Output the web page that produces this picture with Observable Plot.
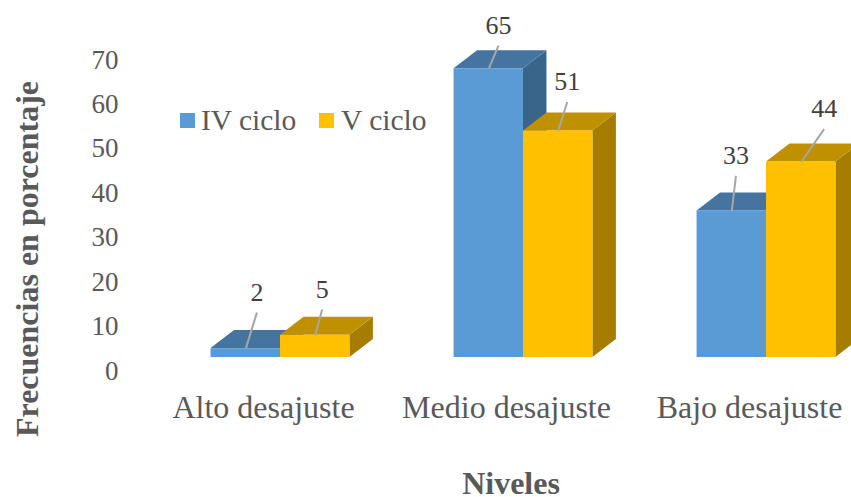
<!DOCTYPE html>
<html><head><meta charset="utf-8">
<script src="https://cdn.jsdelivr.net/npm/d3@7"></script>
<script src="https://cdn.jsdelivr.net/npm/@observablehq/plot@0.6"></script>
<style>
html,body{margin:0;padding:0;background:#fff;overflow:hidden}
#wrap{position:relative;width:851px;height:497px}
#wrap svg{display:block;font-family:"Liberation Serif",serif}
.lg{position:absolute;top:102px;font:29.5px/36px "Liberation Serif",serif;color:#595959;white-space:nowrap}
.sw{position:absolute;top:113px;width:15px;height:15px}
</style></head><body>
<div id="wrap"></div>
<script>
const categories = ["Alto desajuste", "Medio desajuste", "Bajo desajuste"];
const seriesNames = ["IV ciclo", "V ciclo"];
const ivCiclo = [2, 65, 33];
const vCiclo = [5, 51, 44];
const yTicks = [0, 10, 20, 30, 40, 50, 60, 70];
// leader-line ends relative to each bar's top, in bar widths and in value units
const leaderIvX = [0.16, 0.14, 0.06];
const leaderIvY = [8.1, 5.2, 7.9];
const leaderVX = [0.10, 0.13, 0.33];
const leaderVY = [5.8, 6.5, 7.4];

const colors = {
  "IV ciclo": {front: "#5B9BD5", top: "#44749F", side: "#3A658B"},
  "V ciclo": {front: "#FFC000", top: "#BF9000", side: "#A67D00"}
};
const pitch = 3.5, depthX = 0.338, depthY = 4.05;

const bars = [];
categories.forEach((c, i) => {
  [[seriesNames[0], ivCiclo, -1, leaderIvX, leaderIvY], [seriesNames[1], vCiclo, 0, leaderVX, leaderVY]].forEach(([s, vals, off, lx, ly]) => {
    const x1 = i * pitch + off;
    bars.push({s, value: vals[i], x1, x2: x1 + 1, mid: x1 + 0.5, endX: x1 + 0.5 + lx[i], endY: vals[i] + ly[i]});
  });
});

const marks = [];
const sideFace = b => [
  {x: b.x2, y1: 0, y2: b.value},
  {x: b.x2 + depthX, y1: depthY, y2: b.value + depthY}
];
const topFace = b => [
  {y: b.value, x1: b.x1, x2: b.x2},
  {y: b.value + depthY, x1: b.x1 + depthX, x2: b.x2 + depthX}
];
// back to front, left to right
bars.forEach(b => {
  const col = colors[b.s];
  marks.push(Plot.areaY(sideFace(b), {x: "x", y1: "y1", y2: "y2", fill: col.side}));
  marks.push(Plot.areaX(topFace(b), {y: "y", x1: "x1", x2: "x2", fill: col.top}));
  marks.push(Plot.rect([b], {x1: "x1", x2: "x2", y1: 0, y2: "value", fill: col.front}));
});

const chart = Plot.plot({
  width: 851, height: 497,
  marginLeft: 120, marginRight: 0, marginTop: 46, marginBottom: 140,
  style: {fontFamily: '"Liberation Serif", serif', background: "#fff"},
  x: {type: "linear", domain: [0, 2 * pitch], range: [280, 766]},
  y: {domain: [0, 70], range: [357, 46]},
  marks: [
    ...marks,
    Plot.link(bars, {x1: "mid", y1: "value", x2: "endX", y2: "endY", stroke: "#A6A6A6", strokeWidth: 2}),
    Plot.text(bars, {x: "endX", y: "endY", text: "value", dy: -20, fontSize: 26, fill: "#404040"}),
    Plot.axisY({ticks: yTicks, tickSize: 0, tickPadding: 0, dx: -2, dy: 13.5, label: null, fontSize: 27, color: "#595959", anchor: "left"}),
    Plot.axisX({ticks: [0, pitch, 2 * pitch], tickFormat: d => categories[Math.round(d / pitch)], tickSize: 0, tickPadding: 0, label: null, dx: -17, dy: 38, fontSize: 32, color: "#595959", anchor: "bottom"}),
    Plot.text(["Frecuencias en porcentaje"], {frameAnchor: "left", textAnchor: "middle", dx: -93, dy: 57, rotate: -90, fontSize: 32, fontWeight: "bold", fill: "#595959"}),
    Plot.text(["Niveles"], {frameAnchor: "bottom", dx: 25, dy: 136, fontSize: 32, fontWeight: "bold", fill: "#595959"})
  ]
});
const wrap = document.getElementById("wrap");
wrap.appendChild(chart);
[[180, 201, 0], [319, 341, 1]].forEach(([sx, tx, i]) => {
  const sw = document.createElement("div");
  sw.className = "sw"; sw.style.left = sx + "px"; sw.style.background = colors[seriesNames[i]].front;
  const t = document.createElement("div");
  t.className = "lg"; t.style.left = tx + "px"; t.textContent = seriesNames[i];
  wrap.append(sw, t);
});
</script>
</body></html>
